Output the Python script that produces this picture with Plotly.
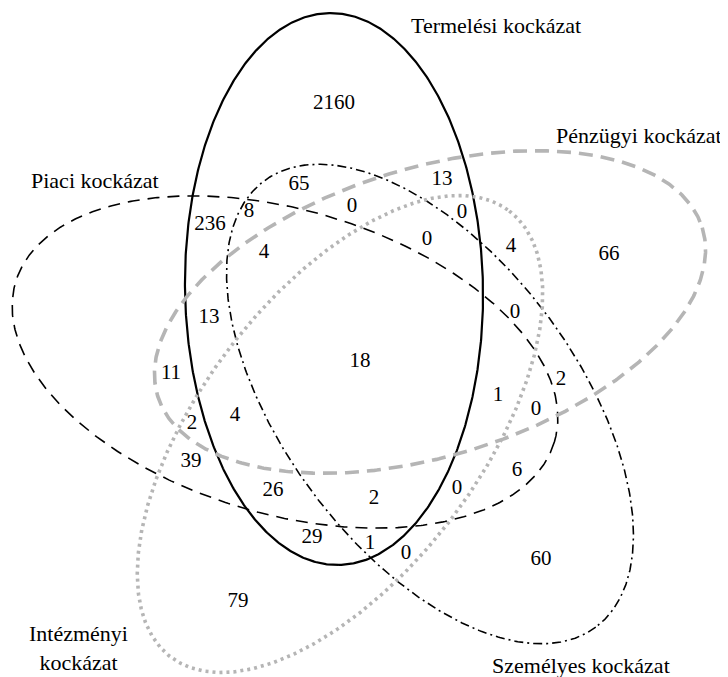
import numpy as np
import plotly.graph_objects as go

# ---- data ----
set_names = ["Termelési kockázat", "Piaci kockázat", "Pénzügyi kockázat",
             "Személyes kockázat", "Intézményi<br>kockázat"]
region_counts = [2160, 65, 0, 8, 236, 4, 13, 13, 0, 0, 4, 66, 0, 18, 11, 4, 2,
                 39, 26, 29, 79, 1, 2, 0, 6, 0, 2, 1, 0, 60]

# ---- layout (pixel space) ----
region_pos = [(334, 104), (299, 185), (352, 207), (249, 212), (210, 225), (264, 253),
              (209, 318), (442, 180), (462, 213), (427, 240), (511, 247), (609, 255),
              (515, 313), (360, 362), (171, 374), (235, 416), (192, 424), (191, 462),
              (273, 491), (312, 538), (238, 602), (498, 396), (561, 380), (536, 410),
              (517, 471), (457, 489), (374, 499), (370, 544), (406, 554), (541, 560)]

# ellipse geometry: cx, cy, a, b, angle(deg, screen)
ellipses = [
    (334, 289, 276, 149, 89),      # Termelési
    (285, 362, 281, 152, 16.5),    # Piaci
    (430, 312, 285, 144, -17.2),   # Pénzügyi
    (430, 404, 278, 147, 53.4),    # Személyes
    (340, 434, 280, 140, -52.8),   # Intézményi
]
styles = [
    dict(color="black", width=2.2, dash="solid"),
    dict(color="black", width=1.6, dash="12px,8px"),
    dict(color="#b5b5b5", width=3.6, dash="14px,8px"),
    dict(color="black", width=1.6, dash="9px,4px,2px,4px"),
    dict(color="#b5b5b5", width=3.6, dash="3px,4px"),
]
label_pos = [(496, 25), (95, 180), (639, 135), (581, 665), (78, 648)]

FONT = "Liberation Serif"
OFF = 8  # page body margin compensation
fig = go.Figure()
t = np.linspace(0, 2 * np.pi, 721)
draw_order = [1, 3, 0, 2, 4]
for i in draw_order:
    cx, cy, a, b, ang = ellipses[i]
    th = np.deg2rad(ang)
    xs = cx + a * np.cos(t) * np.cos(th) - b * np.sin(t) * np.sin(th)
    ys = cy + a * np.cos(t) * np.sin(th) + b * np.sin(t) * np.cos(th)
    fig.add_trace(go.Scatter(x=xs, y=ys, mode="lines", line=styles[i],
                             hoverinfo="skip", showlegend=False, name=set_names[i]))

fig.add_trace(go.Scatter(
    x=[p[0] for p in region_pos], y=[p[1] for p in region_pos],
    mode="text", text=[str(v) for v in region_counts],
    textfont=dict(family=FONT, size=21, color="black"),
    textposition="middle center", hoverinfo="skip", showlegend=False))

for name, (lx, ly) in zip(set_names, label_pos):
    fig.add_annotation(x=lx, y=ly, text=name, showarrow=False, align="center",
                       font=dict(family=FONT, size=22, color="black"),
                       xanchor="center", yanchor="middle")

fig.update_layout(
    width=728, height=677, margin=dict(l=0, r=0, t=0, b=0),
    paper_bgcolor="white", plot_bgcolor="white",
    xaxis=dict(range=[OFF, 728 + OFF], visible=False, fixedrange=True),
    yaxis=dict(range=[677 + OFF, OFF], visible=False, fixedrange=True),
)
fig.write_html("out.html")
